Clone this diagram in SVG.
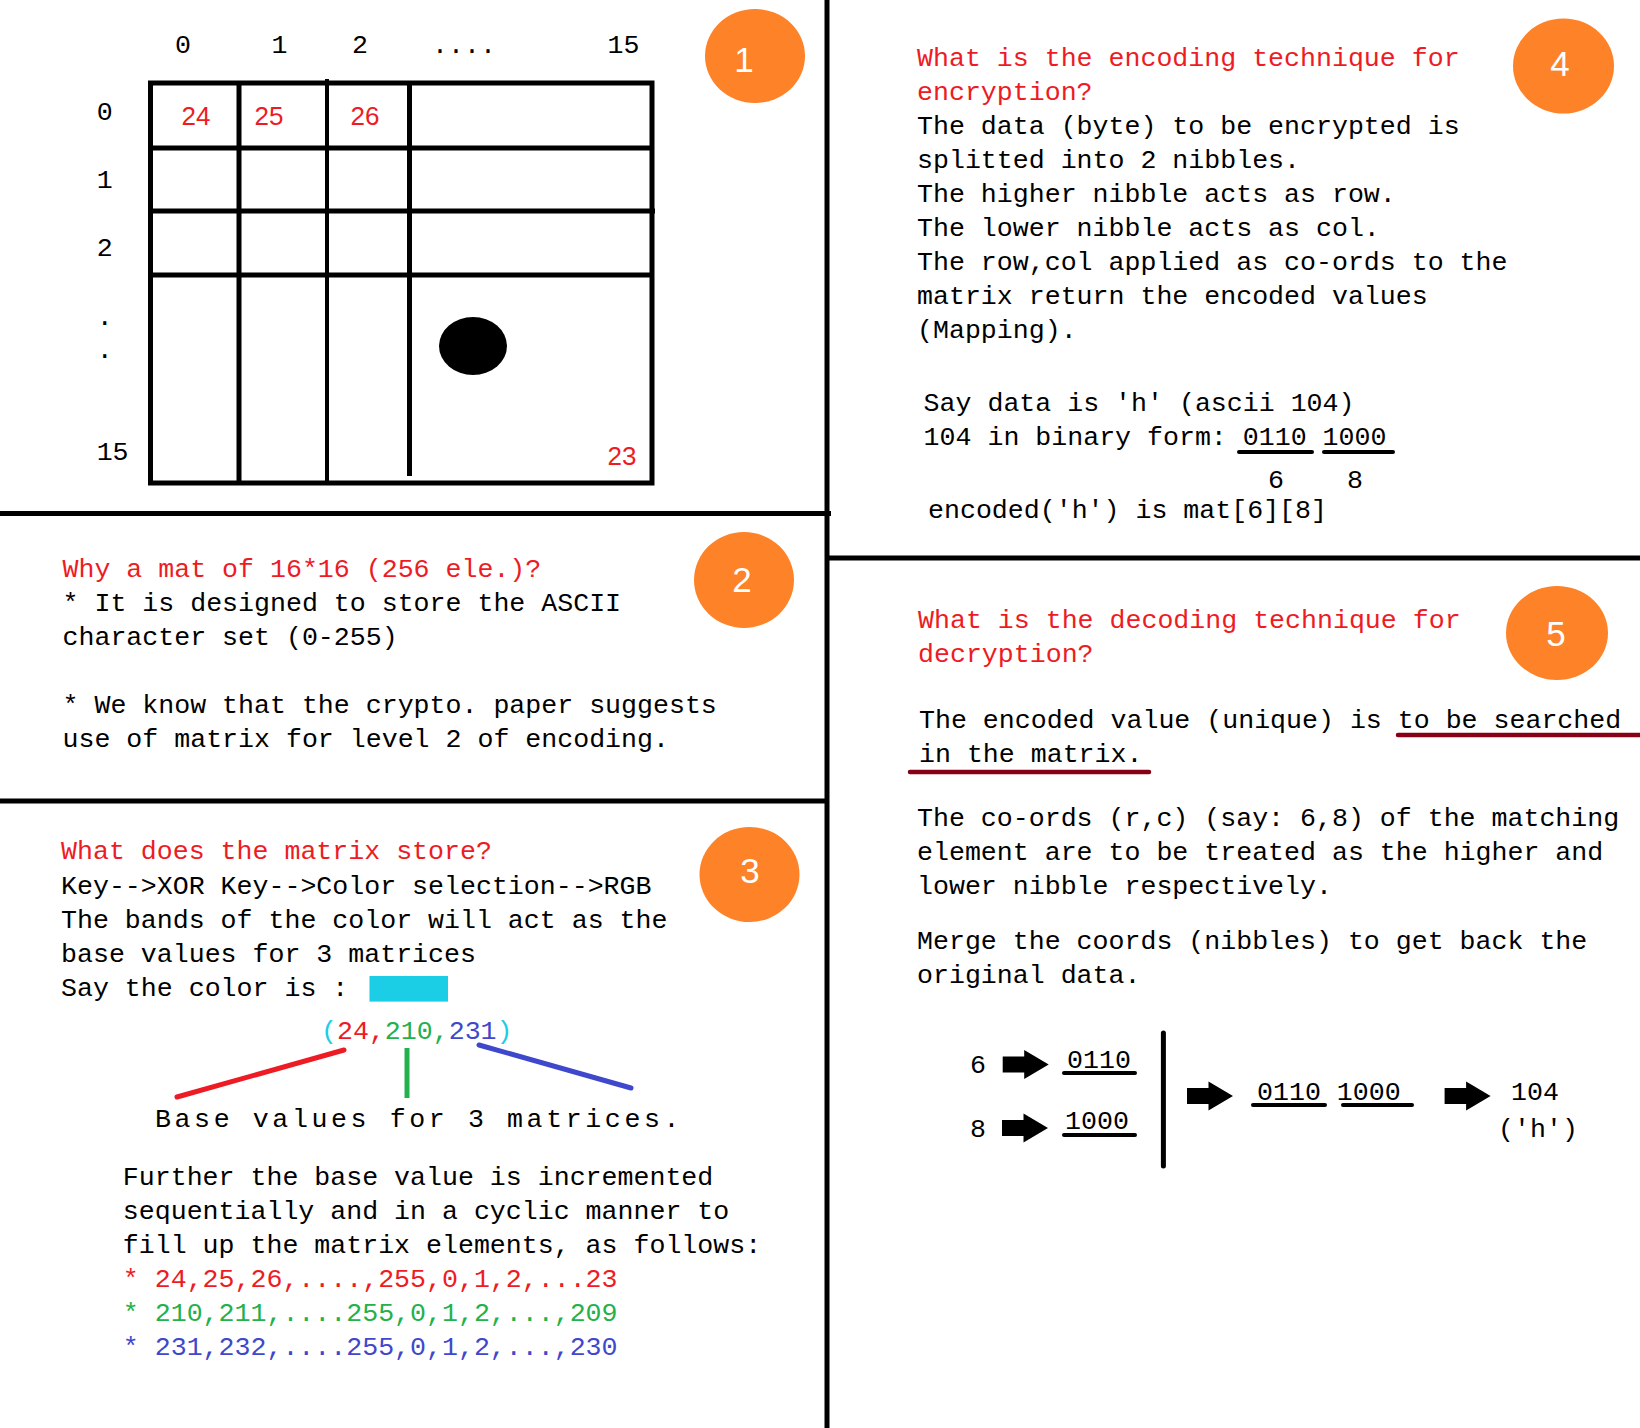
<svg xmlns="http://www.w3.org/2000/svg" width="1640" height="1428" viewBox="0 0 1640 1428">
<style>
.t{font-family:"Liberation Mono","DejaVu Sans Mono",monospace;font-size:26.6px;fill:#000}
.r{fill:#ED1C24}.g{fill:#22B14C}.b{fill:#3F48CC}.c{fill:#1BCDE5}
.badge{fill:#FE8228}
.bn{font-family:"Liberation Sans",Arial,sans-serif;font-size:35px;fill:#fff;text-anchor:middle}
.rn{font-family:"Liberation Sans",Arial,sans-serif;font-size:26px;fill:#ED1C24;text-anchor:middle}
.m{text-anchor:middle}
.sep{stroke:#000;stroke-width:5}
.grid{stroke:#000;stroke-width:5;fill:none}
.ul{stroke:#000;stroke-width:4;stroke-linecap:round}
.dul{stroke:#880015;stroke-width:4.5;stroke-linecap:round}
.ln{stroke-width:5;stroke-linecap:round}
</style>
<defs>
<path id="blk" d="M0,-8 H21.5 V-14.5 L46,0 L21.5,14.5 V8 H0 Z" fill="#000"/>
</defs>
<rect width="1640" height="1428" fill="#fff"/>

<g id="separators">
<line class="sep" x1="0" y1="513.5" x2="831" y2="513.5"/>
<line class="sep" x1="0" y1="801" x2="827" y2="801"/>
<line class="sep" x1="827" y1="0" x2="827" y2="1428"/>
<line class="sep" x1="827" y1="558" x2="1640" y2="558"/>
</g>

<g id="panel1">
<rect class="grid" x="150.5" y="83" width="501.5" height="400"/>
<line class="grid" x1="239" y1="83" x2="239" y2="483"/>
<line class="grid" x1="327" y1="79" x2="327" y2="481" style="stroke-width:4"/>
<line class="grid" x1="409.5" y1="83" x2="409.5" y2="476"/>
<line class="grid" x1="150.5" y1="148" x2="652" y2="148"/>
<line class="grid" x1="150.5" y1="211" x2="655" y2="211"/>
<line class="grid" x1="150.5" y1="275" x2="652" y2="275"/>
<text class="t m" x="183" y="52.7">0</text>
<text class="t m" x="279.5" y="52.7">1</text>
<text class="t m" x="360" y="52.7">2</text>
<text class="t" x="432" y="52.7">....</text>
<text class="t m" x="623.5" y="52.7">15</text>
<text class="t m" x="104.7" y="120">0</text>
<text class="t m" x="104.7" y="188">1</text>
<text class="t m" x="104.7" y="256">2</text>
<text class="t m" x="104.7" y="325">.</text>
<text class="t m" x="104.7" y="358">.</text>
<text class="t m" x="112.6" y="460">15</text>
<text class="rn" x="196" y="124.5">24</text>
<text class="rn" x="269" y="125">25</text>
<text class="rn" x="365" y="125">26</text>
<text class="rn" x="622" y="465">23</text>
<ellipse cx="473" cy="346" rx="34" ry="29" fill="#000"/>
</g>
<g id="badge1"><ellipse class="badge" cx="755" cy="56" rx="50" ry="47"/><text class="bn" x="744" y="72">1</text></g>

<g id="panel2">
<text class="t r" x="62.5" y="576.7">Why a mat of 16*16 (256 ele.)?</text>
<text class="t" x="62.5" y="610.7">* It is designed to store the ASCII</text>
<text class="t" x="62.5" y="645">character set (0-255)</text>
<text class="t" x="62.5" y="713">* We know that the crypto. paper suggests</text>
<text class="t" x="62.5" y="747">use of matrix for level 2 of encoding.</text>
</g>
<g id="badge2"><ellipse class="badge" cx="744" cy="580" rx="50" ry="48"/><text class="bn" x="742" y="592">2</text></g>

<g id="panel3">
<text class="t r" x="61" y="859">What does the matrix store?</text>
<text class="t" x="61" y="893.5">Key--&gt;XOR Key--&gt;Color selection--&gt;RGB</text>
<text class="t" x="61" y="927.5">The bands of the color will act as the</text>
<text class="t" x="61" y="961.5">base values for 3 matrices</text>
<text class="t" x="61" y="995.5">Say the color is :</text>
<rect x="369.5" y="976" width="78.5" height="25.6" fill="#1BCDE5"/>
<text class="t" x="321" y="1039"><tspan class="c">(</tspan><tspan class="r">24,</tspan><tspan class="g">210,</tspan><tspan class="b">231</tspan><tspan class="c">)</tspan></text>
<text class="t" x="155" y="1127" style="letter-spacing:3.6px">Base values for 3 matrices.</text>
<text class="t" x="122.8" y="1185">Further the base value is incremented</text>
<text class="t" x="122.8" y="1219">sequentially and in a cyclic manner to</text>
<text class="t" x="122.8" y="1253">fill up the matrix elements, as follows:</text>
<text class="t r" x="122.8" y="1287">* 24,25,26,....,255,0,1,2,...23</text>
<text class="t g" x="122.8" y="1321">* 210,211,....255,0,1,2,...,209</text>
<text class="t b" x="122.8" y="1355">* 231,232,....255,0,1,2,...,230</text>
</g>
<g id="badge3"><ellipse class="badge" cx="749.5" cy="874.5" rx="50" ry="47.5"/><text class="bn" x="750" y="883">3</text></g>

<g id="panel4">
<text class="t r" x="917" y="66">What is the encoding technique for</text>
<text class="t r" x="917" y="100">encryption?</text>
<text class="t" x="917" y="134">The data (byte) to be encrypted is</text>
<text class="t" x="917" y="168">splitted into 2 nibbles.</text>
<text class="t" x="917" y="202">The higher nibble acts as row.</text>
<text class="t" x="917" y="236">The lower nibble acts as col.</text>
<text class="t" x="917" y="270">The row,col applied as co-ords to the</text>
<text class="t" x="917" y="304">matrix return the encoded values</text>
<text class="t" x="917" y="338">(Mapping).</text>
<text class="t" x="923.6" y="411">Say data is 'h' (ascii 104)</text>
<text class="t" x="923.6" y="445">104 in binary form: 0110 1000</text>
<line class="ul" x1="1239" y1="452" x2="1312" y2="452"/>
<line class="ul" x1="1324" y1="452" x2="1393" y2="452"/>
<text class="t m" x="1276" y="487.5">6</text>
<text class="t m" x="1355" y="487.5">8</text>
<text class="t" x="928" y="518">encoded('h') is mat[6][8]</text>
</g>
<g id="badge4"><ellipse class="badge" cx="1563.5" cy="66" rx="50.5" ry="47.5"/><text class="bn" x="1560" y="75.7">4</text></g>

<g id="panel5">
<text class="t r" x="918" y="628">What is the decoding technique for</text>
<text class="t r" x="918" y="662">decryption?</text>
<text class="t" x="919" y="728.3">The encoded value (unique) is to be searched</text>
<line class="dul" x1="1398" y1="735" x2="1642" y2="735"/>
<text class="t" x="919" y="762">in the matrix.</text>
<line class="dul" x1="910" y1="772" x2="1149" y2="772"/>
<text class="t" x="917" y="825.5">The co-ords (r,c) (say: 6,8) of the matching</text>
<text class="t" x="917" y="859.5">element are to be treated as the higher and</text>
<text class="t" x="917" y="893.5">lower nibble respectively.</text>
<text class="t" x="917" y="949">Merge the coords (nibbles) to get back the</text>
<text class="t" x="917" y="983">original data.</text>
</g>
<g id="badge5"><ellipse class="badge" cx="1557" cy="633" rx="51" ry="47"/><text class="bn" x="1556" y="646">5</text></g>

<g id="flow">
<text class="t m" x="978" y="1072.7">6</text>
<text class="t" x="1067" y="1068">0110</text>
<line class="ul" x1="1064" y1="1073" x2="1135" y2="1073"/>
<text class="t m" x="978" y="1136.7">8</text>
<text class="t" x="1065" y="1129">1000</text>
<line class="ul" x1="1064" y1="1135" x2="1135" y2="1135"/>
<line x1="1163.4" y1="1033" x2="1163.4" y2="1166" stroke="#000" stroke-width="5" stroke-linecap="round"/>
<text class="t" x="1257" y="1100">0110 1000</text>
<line class="ul" x1="1253" y1="1105" x2="1325" y2="1105"/>
<line class="ul" x1="1343" y1="1105" x2="1412" y2="1105"/>
<text class="t m" x="1535" y="1100">104</text>
<text class="t m" x="1538" y="1136.7">('h')</text>
</g>

<g id="connectors">
<line class="ln" x1="344" y1="1050" x2="177" y2="1097" stroke="#ED1C24"/>
<line class="ln" x1="407" y1="1048" x2="407" y2="1098" stroke="#22B14C" style="stroke-linecap:butt"/>
<line class="ln" x1="479" y1="1045" x2="631" y2="1088" stroke="#3F48CC"/>
<use href="#blk" x="1002.7" y="1064.5"/>
<use href="#blk" x="1002" y="1128"/>
<use href="#blk" x="1187" y="1096"/>
<use href="#blk" x="1444.6" y="1096"/>
</g>
</svg>
